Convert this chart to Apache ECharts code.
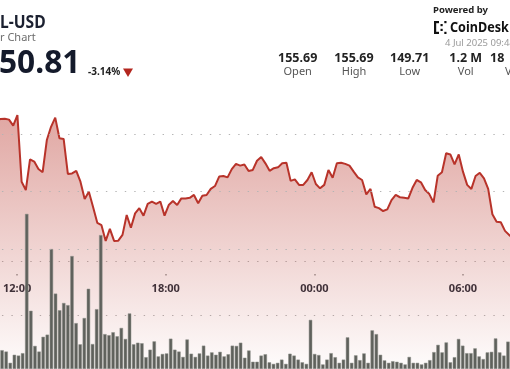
<!DOCTYPE html>
<html><head><meta charset="utf-8">
<script src="https://cdn.jsdelivr.net/npm/echarts@6/dist/echarts.min.js"></script>
<style>html,body{margin:0;padding:0;background:#fff}#c{width:510px;height:369px}</style>
</head><body><div id="c"></div>
<script>
// ---- data ----
const priceStart = '11:30';          // first 10-minute price point
const priceStepMin = 10;
const prices = [
155.50,155.52,155.53,155.50,155.29,155.66,153.34,153.05,154.12,154.04,
153.78,153.67,154.79,155.25,155.57,154.85,154.83,153.61,153.63,153.72,
153.34,152.74,152.99,152.46,151.91,151.83,151.28,151.70,151.28,151.29,
151.49,152.18,151.74,152.24,152.42,152.16,152.57,152.65,152.57,152.65,
152.16,152.53,152.67,152.53,152.76,152.76,152.78,152.88,152.59,152.85,
152.88,153.09,153.19,153.52,153.54,153.49,153.78,153.96,153.90,153.94,
153.71,153.75,154.07,154.20,153.98,153.72,153.81,153.84,153.98,154.00,
153.37,153.42,153.23,153.23,153.40,153.67,153.26,153.11,153.23,153.75,
153.48,153.98,154.00,153.96,153.90,153.69,153.49,153.40,152.90,153.09,
152.47,152.42,152.32,152.38,152.70,152.88,152.80,152.78,152.76,153.13,
153.40,153.32,153.05,152.91,152.62,153.55,153.67,154.33,154.29,153.94,
154.29,153.69,153.23,153.09,153.54,153.65,153.46,153.09,152.21,151.95,
151.93,151.63,151.49,151.35
];
// volume per bar (thousands)
const volumes = [
7.0,6.5,2.3,5.3,5.0,5.9,57.8,21.7,8.6,6.5,
12.0,12.8,44.7,28.1,21.9,24.6,23.8,42.1,17.1,9.2,
19.0,29.9,9.3,22.3,49.9,13.0,12.6,13.7,12.2,15.3,
11.2,20.7,9.2,9.8,9.6,4.4,7.2,10.3,4.7,5.6,
5.8,11.3,7.2,6.5,4.5,11.0,5.7,4.5,5.8,8.7,
5.0,6.2,5.3,6.4,4.7,5.5,8.7,8.6,9.8,4.2,
6.9,2.7,2.7,5.0,5.5,2.5,1.9,2.3,3.5,1.9,
5.7,5.0,3.5,2.5,1.9,18.3,5.6,5.2,1.7,3.5,
5.9,4.4,2.3,3.5,11.8,2.3,5.1,3.3,5.8,2.3,
14.4,13.0,5.3,3.2,2.3,2.9,2.7,2.3,1.7,4.5,
2.3,2.3,1.7,2.3,3.3,6.3,9.0,6.2,9.9,2.5,
4.4,11.2,8.7,5.9,5.9,7.7,4.7,3.7,6.2,6.4,
11.4,6.2,5.0,10.2
];
const xTickLabels = ['12:00','18:00','00:00','06:00'];
const priceGridValues = [155, 153, 151];
const statValues = ['155.69','155.69','149.71','1.2 M'];
const statNames = ['Open','High','Low','Vol'];

// ---- helpers ----
function toHour(s){ const p=s.split(':').map(Number); let v=p[0]+p[1]/60; if(v<11) v+=24; return v; }
const h0 = toHour(priceStart);
const priceData = prices.map((p,i)=>[h0 + i*priceStepMin/60, p]);
const volCats = volumes.map((v,i)=>String(i));

const FONT = 'Noto Sans';
const chart = echarts.init(document.getElementById('c'), null, {renderer:'canvas'});

const graphic = [
  {type:'text', x:0, y:23, scaleX:0.92, style:{text:'L-USD', font:'bold 17px "Noto Sans"', fill:'#1b2030', verticalAlign:'middle'}},
  {type:'text', x:0, y:37.5, style:{text:'r Chart', font:'11px "Noto Sans"', fill:'#6d6d6d', verticalAlign:'middle'}},
  {type:'text', x:-1, y:64, scaleX:0.96, style:{text:'50.81', font:'bold 33px "Noto Sans"', fill:'#141a2b', verticalAlign:'middle'}},
  {type:'text', x:88, y:72.5, style:{text:'-3.14%', font:'bold 10px "Noto Sans"', fill:'#222', verticalAlign:'middle'}},
  {type:'polygon', shape:{points:[[123,68.5],[133,68.5],[128,77]]}, style:{fill:'#b3261e'}},
  {type:'text', x:433, y:10, style:{text:'Powered by', font:'bold 9.5px "Noto Sans"', fill:'#222', verticalAlign:'middle'}},
  {type:'text', x:450, y:27.5, scaleX:0.84, style:{text:'CoinDesk', font:'bold 15px "Noto Sans"', fill:'#111', verticalAlign:'middle'}},
  {type:'text', x:445, y:43.5, style:{text:'4 Jul 2025 09:48', font:'9.5px "Noto Sans"', fill:'#9a9a9a', verticalAlign:'middle'}},
  {type:'rect', shape:{x:434, y:21, width:2.2, height:13}, style:{fill:'#111'}},
  {type:'rect', shape:{x:436, y:21, width:3, height:2.2}, style:{fill:'#111'}},
  {type:'rect', shape:{x:436, y:31.8, width:3, height:2.2}, style:{fill:'#111'}},
  {type:'rect', shape:{x:440.5, y:24, width:2.2, height:2.2}, style:{fill:'#111'}},
  {type:'rect', shape:{x:440.5, y:28.8, width:2.2, height:2.2}, style:{fill:'#111'}},
  {type:'rect', shape:{x:444.3, y:21, width:2.2, height:2.2}, style:{fill:'#111'}},
  {type:'rect', shape:{x:444.3, y:31.8, width:2.2, height:2.2}, style:{fill:'#111'}},
  {type:'text', x:490, y:58, style:{text:'18', font:'bold 12.5px "Noto Sans"', fill:'#222', verticalAlign:'middle'}},
  {type:'text', x:505, y:71.5, style:{text:'V', font:'11px "Noto Sans"', fill:'#555', verticalAlign:'middle'}}
];
const statX = [297.7, 354, 409.7, 465.7];
statValues.forEach((v,i)=>{
  graphic.push({type:'text', x:statX[i], y:58, style:{text:v, font:'bold 12.5px "Noto Sans"', fill:'#222', align:'center', verticalAlign:'middle'}});
  graphic.push({type:'text', x:statX[i], y:71.5, style:{text:statNames[i], font:'11px "Noto Sans"', fill:'#555', align:'center', verticalAlign:'middle'}});
});

const dotted = {color:'#b4b4b4', width:1, type:[1.4,8.05], dashOffset:7.5};

chart.setOption({
  animation:false,
  backgroundColor:'#fff',
  textStyle:{fontFamily:FONT},
  grid:[
    {left:0, width:510, top:60, bottom:0},
    {left:-3.37, width:516.46, top:208, height:165},
    {left:9, width:454, top:100, height:174}
  ],
  xAxis:[
    {gridIndex:0, type:'value', min:11.6431, max:31.8652, show:false},
    {gridIndex:1, type:'category', data:volCats, show:false, boundaryGap:true},
    {gridIndex:2, type:'value', min:12, max:30, interval:6,
     axisLine:{show:false}, splitLine:{show:false},
     axisTick:{show:true, length:1.5, lineStyle:{color:'#999', width:1.5}},
     axisLabel:{show:true, margin:9, fontSize:11, fontWeight:'bold', color:'#2b303b', fontFamily:FONT,
       showMinLabel:true, showMaxLabel:true,
       formatter:(v)=>xTickLabels[Math.round((v-12)/6)]}}
  ],
  yAxis:[
    {gridIndex:0, type:'value', min:146.826, max:157.574, show:false, splitLine:{show:false}},
    {gridIndex:1, type:'value', min:0, max:60, interval:20, axisLine:{show:false}, axisTick:{show:false}, axisLabel:{show:false},
     splitLine:{show:true, showMinLine:false, showMaxLine:false, lineStyle:dotted}},
    {gridIndex:2, type:'value', min:0, max:1, show:false}
  ],
  series:[
    {type:'line', xAxisIndex:0, yAxisIndex:0, data:priceData, symbol:'none', z:2,
     lineStyle:{color:'#b8332a', width:2},
     areaStyle:{color:new echarts.graphic.LinearGradient(0,0,0,1,[
        {offset:0, color:'rgba(184,52,42,0.62)'},
        {offset:0.5, color:'rgba(184,52,42,0.32)'},
        {offset:1, color:'rgba(184,52,42,0.02)'}])},
     markLine:{silent:true, symbol:['none','none'], label:{show:false}, z:5,
       lineStyle:dotted, emphasis:{disabled:true},
       data:priceGridValues.map(v=>({yAxis:v}))}},
    {type:'bar', xAxisIndex:1, yAxisIndex:1, data:volumes, barWidth:3.4, z:3,
     itemStyle:{color:'#5f615c', borderColor:'#8e908b', borderWidth:0.5}}
  ],
  graphic:graphic
});
</script></body></html>
